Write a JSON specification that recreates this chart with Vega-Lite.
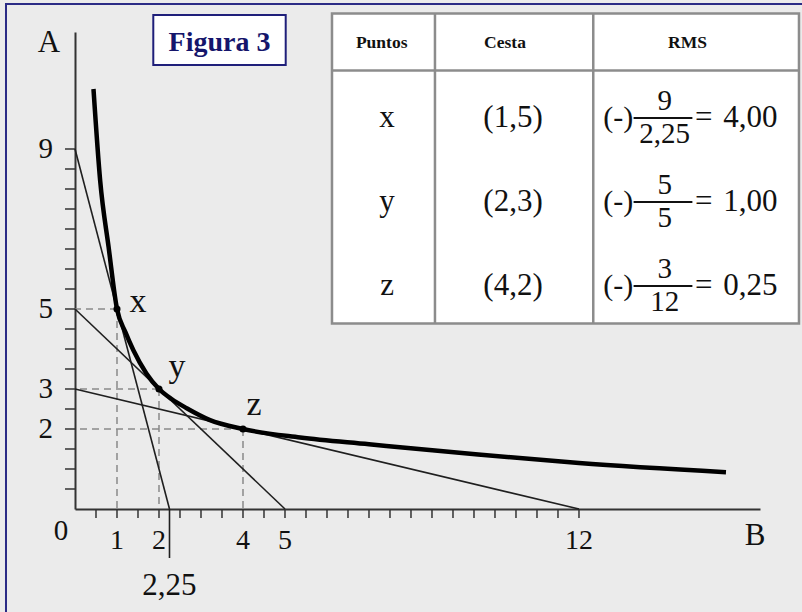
{
  "$schema": "https://vega.github.io/schema/vega-lite/v6.json",
  "width": 685,
  "height": 477,
  "autosize": {"type": "none"},
  "padding": {"left": 75, "top": 32, "right": 42, "bottom": 103},
  "background": "#ebebeb",
  "config": {
    "view": {"stroke": null},
    "locale": {"number": {"decimal": ",", "thousands": ".", "grouping": [3], "currency": ["", " €"]}},
    "text": {"font": "Liberation Serif", "color": "#111111"},
    "axisX": {"grid": false, "labels": false, "ticks": false, "domainColor": "#333333", "domainWidth": 2},
    "axisY": {"grid": false, "labels": false, "ticks": false, "domainColor": "#333333", "domainWidth": 2}
  },
  "datasets": {
    "puntos": [
      {"punto": "x", "B": 1, "A": 5, "cesta": "(1,5)", "corteA": 9, "corteB": 2.25, "rms": 4},
      {"punto": "y", "B": 2, "A": 3, "cesta": "(2,3)", "corteA": 5, "corteB": 5, "rms": 1},
      {"punto": "z", "B": 4, "A": 2, "cesta": "(4,2)", "corteA": 3, "corteB": 12, "rms": 0.25}
    ],
    "rectas": [
      {"punto": "x", "B": 0, "A": 9}, {"punto": "x", "B": 2.25, "A": 0},
      {"punto": "y", "B": 0, "A": 5}, {"punto": "y", "B": 5, "A": 0},
      {"punto": "z", "B": 0, "A": 3}, {"punto": "z", "B": 12, "A": 0}
    ],
    "curva": [
      {"B": 0.44, "A": 10.5}, {"B": 0.6, "A": 8.2}, {"B": 0.8, "A": 6.55}, {"B": 1, "A": 5},
      {"B": 1.2, "A": 4.42}, {"B": 1.39, "A": 3.97}, {"B": 1.7, "A": 3.39}, {"B": 2, "A": 3},
      {"B": 2.3, "A": 2.75}, {"B": 2.66, "A": 2.52}, {"B": 3.2, "A": 2.23}, {"B": 4, "A": 2},
      {"B": 5.36, "A": 1.79}, {"B": 7, "A": 1.62}, {"B": 9.6, "A": 1.36}, {"B": 12, "A": 1.15},
      {"B": 15.5, "A": 0.92}
    ],
    "ticksB": [
      {"v": 0.5}, {"v": 1}, {"v": 1.5}, {"v": 2}, {"v": 2.5}, {"v": 3}, {"v": 3.5}, {"v": 4},
      {"v": 4.5}, {"v": 5}, {"v": 5.5}, {"v": 6}, {"v": 6.5}, {"v": 7}, {"v": 7.5}, {"v": 8},
      {"v": 8.5}, {"v": 9}, {"v": 9.5}, {"v": 10}, {"v": 10.5}, {"v": 11}, {"v": 11.5}, {"v": 12}
    ],
    "ticksA": [
      {"v": 0.5}, {"v": 1}, {"v": 1.5}, {"v": 2}, {"v": 2.5}, {"v": 3}, {"v": 3.5}, {"v": 4},
      {"v": 4.5}, {"v": 5}, {"v": 5.5}, {"v": 6}, {"v": 6.5}, {"v": 7}, {"v": 7.5}, {"v": 8},
      {"v": 8.5}, {"v": 9}
    ],
    "marcasA": [{"v": 9}, {"v": 5}, {"v": 3}, {"v": 2}],
    "marcasB": [{"v": 1}, {"v": 2}, {"v": 4}, {"v": 5}, {"v": 12}]
  },
  "layer": [
    {
      "layer": [
        {
          "data": {"values": [{}]},
          "mark": {"type": "rect", "fill": "transparent", "stroke": "#2b2b85", "strokeWidth": 2},
          "encoding": {
            "x": {"datum": -1.643, "type": "quantitative"}, "x2": {"datum": 17.9},
            "y": {"datum": 12.625, "type": "quantitative"}, "y2": {"datum": -2.9}
          }
        },
        {
          "data": {"name": "ticksB"},
          "mark": {"type": "rule", "color": "#333333", "strokeWidth": 1.5},
          "encoding": {
            "x": {"field": "v", "type": "quantitative"},
            "y": {"datum": 0, "type": "quantitative"}, "y2": {"datum": -0.225}
          }
        },
        {
          "data": {"name": "ticksA"},
          "mark": {"type": "rule", "color": "#333333", "strokeWidth": 1.5},
          "encoding": {
            "y": {"field": "v", "type": "quantitative"},
            "x": {"datum": 0, "type": "quantitative"}, "x2": {"datum": -0.238}
          }
        },
        {
          "data": {"name": "puntos"},
          "mark": {"type": "rule", "color": "#8a8a8a", "strokeDash": [7, 5], "strokeWidth": 1.5},
          "encoding": {
            "x": {"field": "B", "type": "quantitative"}, "x2": {"datum": 0},
            "y": {"field": "A", "type": "quantitative"}
          }
        },
        {
          "data": {"name": "puntos"},
          "mark": {"type": "rule", "color": "#8a8a8a", "strokeDash": [7, 5], "strokeWidth": 1.5},
          "encoding": {
            "x": {"field": "B", "type": "quantitative"},
            "y": {"field": "A", "type": "quantitative"}, "y2": {"datum": 0}
          }
        },
        {
          "data": {"name": "rectas"},
          "mark": {"type": "line", "color": "#1f1f1f", "strokeWidth": 1.6},
          "encoding": {
            "x": {"field": "B", "type": "quantitative"},
            "y": {"field": "A", "type": "quantitative"},
            "detail": {"field": "punto"}
          }
        },
        {
          "data": {"name": "puntos"},
          "transform": [{"filter": "datum.punto == 'x'"}],
          "mark": {"type": "rule", "color": "#1f1f1f", "strokeWidth": 1.6},
          "encoding": {
            "x": {"field": "corteB", "type": "quantitative"},
            "y": {"datum": 0, "type": "quantitative"}, "y2": {"datum": -1.225}
          }
        },
        {
          "data": {"name": "curva"},
          "mark": {"type": "line", "color": "#000000", "strokeWidth": 4.5, "interpolate": "monotone"},
          "encoding": {
            "x": {"field": "B", "type": "quantitative", "scale": {"domain": [0, 16.31], "nice": false, "zero": false}, "axis": {"title": null}},
            "y": {"field": "A", "type": "quantitative", "scale": {"domain": [0, 11.925], "nice": false, "zero": false}, "axis": {"title": null}}
          }
        },
        {
          "data": {"name": "puntos"},
          "mark": {"type": "circle", "color": "#000000", "size": 50, "opacity": 1},
          "encoding": {
            "x": {"field": "B", "type": "quantitative"},
            "y": {"field": "A", "type": "quantitative"}
          }
        },
        {
          "data": {"name": "puntos"},
          "transform": [{"filter": "datum.punto == 'x'"}],
          "mark": {"type": "text", "fontSize": 34, "align": "center", "baseline": "alphabetic", "dx": 21, "dy": 3},
          "encoding": {"x": {"field": "B", "type": "quantitative"}, "y": {"field": "A", "type": "quantitative"}, "text": {"field": "punto"}}
        },
        {
          "data": {"name": "puntos"},
          "transform": [{"filter": "datum.punto == 'y'"}],
          "mark": {"type": "text", "fontSize": 34, "align": "center", "baseline": "alphabetic", "dx": 18, "dy": -12},
          "encoding": {"x": {"field": "B", "type": "quantitative"}, "y": {"field": "A", "type": "quantitative"}, "text": {"field": "punto"}}
        },
        {
          "data": {"name": "puntos"},
          "transform": [{"filter": "datum.punto == 'z'"}],
          "mark": {"type": "text", "fontSize": 34, "align": "center", "baseline": "alphabetic", "dx": 11, "dy": -14},
          "encoding": {"x": {"field": "B", "type": "quantitative"}, "y": {"field": "A", "type": "quantitative"}, "text": {"field": "punto"}}
        },
        {
          "data": {"name": "marcasA"},
          "mark": {"type": "text", "fontSize": 29, "align": "right", "baseline": "middle", "dx": -22},
          "encoding": {"x": {"datum": 0, "type": "quantitative"}, "y": {"field": "v", "type": "quantitative"}, "text": {"field": "v", "type": "quantitative"}}
        },
        {
          "data": {"name": "marcasB"},
          "mark": {"type": "text", "fontSize": 28, "align": "center", "baseline": "alphabetic", "dy": 40},
          "encoding": {"x": {"field": "v", "type": "quantitative"}, "y": {"datum": 0, "type": "quantitative"}, "text": {"field": "v", "type": "quantitative"}}
        },
        {
          "data": {"values": [{}]},
          "mark": {"type": "text", "fontSize": 29, "align": "center", "baseline": "alphabetic", "dx": -14, "dy": 31, "text": "0"},
          "encoding": {"x": {"datum": 0, "type": "quantitative"}, "y": {"datum": 0, "type": "quantitative"}}
        },
        {
          "data": {"name": "puntos"},
          "transform": [{"filter": "datum.punto == 'x'"}],
          "mark": {"type": "text", "fontSize": 31, "align": "center", "baseline": "alphabetic", "dy": 86},
          "encoding": {"x": {"field": "corteB", "type": "quantitative"}, "y": {"datum": 0, "type": "quantitative"}, "text": {"field": "corteB", "type": "quantitative", "format": "~g"}}
        },
        {
          "data": {"values": [{}]},
          "mark": {"type": "text", "fontSize": 31, "align": "center", "baseline": "alphabetic", "dx": -26, "dy": 20, "text": "A"},
          "encoding": {"x": {"datum": 0, "type": "quantitative"}, "y": {"datum": 11.925, "type": "quantitative"}}
        },
        {
          "data": {"values": [{}]},
          "mark": {"type": "text", "fontSize": 31, "align": "center", "baseline": "alphabetic", "dx": -5, "dy": 36, "text": "B"},
          "encoding": {"x": {"datum": 16.31, "type": "quantitative"}, "y": {"datum": 0, "type": "quantitative"}}
        },
        {
          "data": {"values": [{}]},
          "mark": {"type": "rect", "fill": "#ffffff", "stroke": "#1f1f7a", "strokeWidth": 2},
          "encoding": {
            "x": {"datum": 1.864, "type": "quantitative"}, "x2": {"datum": 5.017},
            "y": {"datum": 12.35, "type": "quantitative"}, "y2": {"datum": 11.1}
          }
        },
        {
          "data": {"values": [{}]},
          "mark": {"type": "text", "fontSize": 28, "fontWeight": "bold", "color": "#15156b", "align": "center", "baseline": "alphabetic", "text": "Figura 3"},
          "encoding": {"x": {"datum": 3.44, "type": "quantitative"}, "y": {"datum": 11.46, "type": "quantitative"}}
        },
        {
          "data": {"values": [{}]},
          "mark": {"type": "rect", "fill": "#ffffff", "stroke": "#8c8c8c", "strokeWidth": 2.5},
          "encoding": {
            "x": {"datum": 6.119, "type": "quantitative"}, "x2": {"datum": 17.238},
            "y": {"datum": 12.39, "type": "quantitative"}, "y2": {"datum": 4.64}
          }
        },
        {
          "data": {"values": [{}]},
          "mark": {"type": "rule", "color": "#8c8c8c", "strokeWidth": 2.5},
          "encoding": {
            "x": {"datum": 6.119, "type": "quantitative"}, "x2": {"datum": 17.238},
            "y": {"datum": 10.96, "type": "quantitative"}
          }
        },
        {
          "data": {"values": [{}]},
          "mark": {"type": "rule", "color": "#8c8c8c", "strokeWidth": 2.5},
          "encoding": {
            "x": {"datum": 8.571, "type": "quantitative"},
            "y": {"datum": 12.39, "type": "quantitative"}, "y2": {"datum": 4.64}
          }
        },
        {
          "data": {"values": [{}]},
          "mark": {"type": "rule", "color": "#8c8c8c", "strokeWidth": 2.5},
          "encoding": {
            "x": {"datum": 12.34, "type": "quantitative"},
            "y": {"datum": 12.39, "type": "quantitative"}, "y2": {"datum": 4.64}
          }
        },
        {
          "data": {"values": [{}]},
          "mark": {"type": "text", "fontSize": 17.5, "fontWeight": "bold", "align": "center", "baseline": "middle", "text": "Puntos"},
          "encoding": {"x": {"datum": 7.302, "type": "quantitative"}, "y": {"datum": 11.65, "type": "quantitative"}}
        },
        {
          "data": {"values": [{}]},
          "mark": {"type": "text", "fontSize": 17.5, "fontWeight": "bold", "align": "center", "baseline": "middle", "text": "Cesta"},
          "encoding": {"x": {"datum": 10.238, "type": "quantitative"}, "y": {"datum": 11.65, "type": "quantitative"}}
        },
        {
          "data": {"values": [{}]},
          "mark": {"type": "text", "fontSize": 17.5, "fontWeight": "bold", "align": "center", "baseline": "middle", "text": "RMS"},
          "encoding": {"x": {"datum": 14.583, "type": "quantitative"}, "y": {"datum": 11.65, "type": "quantitative"}}
        }
      ]
    },
    {
      "data": {"name": "puntos"},
      "layer": [
        {
          "mark": {"type": "text", "fontSize": 31, "align": "center", "baseline": "middle"},
          "encoding": {
            "x": {"datum": 7.43, "type": "quantitative"},
            "y": {"field": "punto", "type": "nominal", "scale": {"type": "point", "domain": ["x", "y", "z"], "range": [86, 254], "padding": 0}, "axis": null},
            "text": {"field": "punto", "type": "nominal"}
          }
        },
        {
          "mark": {"type": "text", "fontSize": 31, "align": "center", "baseline": "middle"},
          "encoding": {
            "x": {"datum": 10.43, "type": "quantitative"},
            "y": {"field": "punto", "type": "nominal", "scale": {"type": "point", "domain": ["x", "y", "z"], "range": [86, 254], "padding": 0}, "axis": null},
            "text": {"field": "cesta", "type": "nominal"}
          }
        },
        {
          "mark": {"type": "text", "fontSize": 30, "align": "center", "baseline": "middle", "dx": -2, "text": "(-)"},
          "encoding": {
            "x": {"datum": 12.98, "type": "quantitative"},
            "y": {"field": "punto", "type": "nominal", "scale": {"type": "point", "domain": ["x", "y", "z"], "range": [86, 254], "padding": 0}, "axis": null}
          }
        },
        {
          "mark": {"type": "text", "fontSize": 29, "align": "center", "baseline": "middle", "dy": -17},
          "encoding": {
            "x": {"datum": 14.04, "type": "quantitative"},
            "y": {"field": "punto", "type": "nominal", "scale": {"type": "point", "domain": ["x", "y", "z"], "range": [86, 254], "padding": 0}, "axis": null},
            "text": {"field": "corteA", "type": "quantitative"}
          }
        },
        {
          "mark": {"type": "text", "fontSize": 29, "align": "center", "baseline": "middle", "dy": 16},
          "encoding": {
            "x": {"datum": 14.04, "type": "quantitative"},
            "y": {"field": "punto", "type": "nominal", "scale": {"type": "point", "domain": ["x", "y", "z"], "range": [86, 254], "padding": 0}, "axis": null},
            "text": {"field": "corteB", "type": "quantitative", "format": "~g"}
          }
        },
        {
          "mark": {"type": "rule", "color": "#111111", "strokeWidth": 1.8},
          "encoding": {
            "x": {"datum": 13.3, "type": "quantitative"}, "x2": {"datum": 14.7},
            "y": {"field": "punto", "type": "nominal", "scale": {"type": "point", "domain": ["x", "y", "z"], "range": [86, 254], "padding": 0}, "axis": null}
          }
        },
        {
          "mark": {"type": "text", "fontSize": 31, "align": "center", "baseline": "middle", "text": "="},
          "encoding": {
            "x": {"datum": 14.97, "type": "quantitative"},
            "y": {"field": "punto", "type": "nominal", "scale": {"type": "point", "domain": ["x", "y", "z"], "range": [86, 254], "padding": 0}, "axis": null}
          }
        },
        {
          "mark": {"type": "text", "fontSize": 31, "align": "center", "baseline": "middle"},
          "encoding": {
            "x": {"datum": 16.08, "type": "quantitative"},
            "y": {"field": "punto", "type": "nominal", "scale": {"type": "point", "domain": ["x", "y", "z"], "range": [86, 254], "padding": 0}, "axis": null},
            "text": {"field": "rms", "type": "quantitative", "format": ".2f"}
          }
        }
      ]
    }
  ],
  "resolve": {"scale": {"y": "independent"}, "axis": {"y": "independent"}}
}
